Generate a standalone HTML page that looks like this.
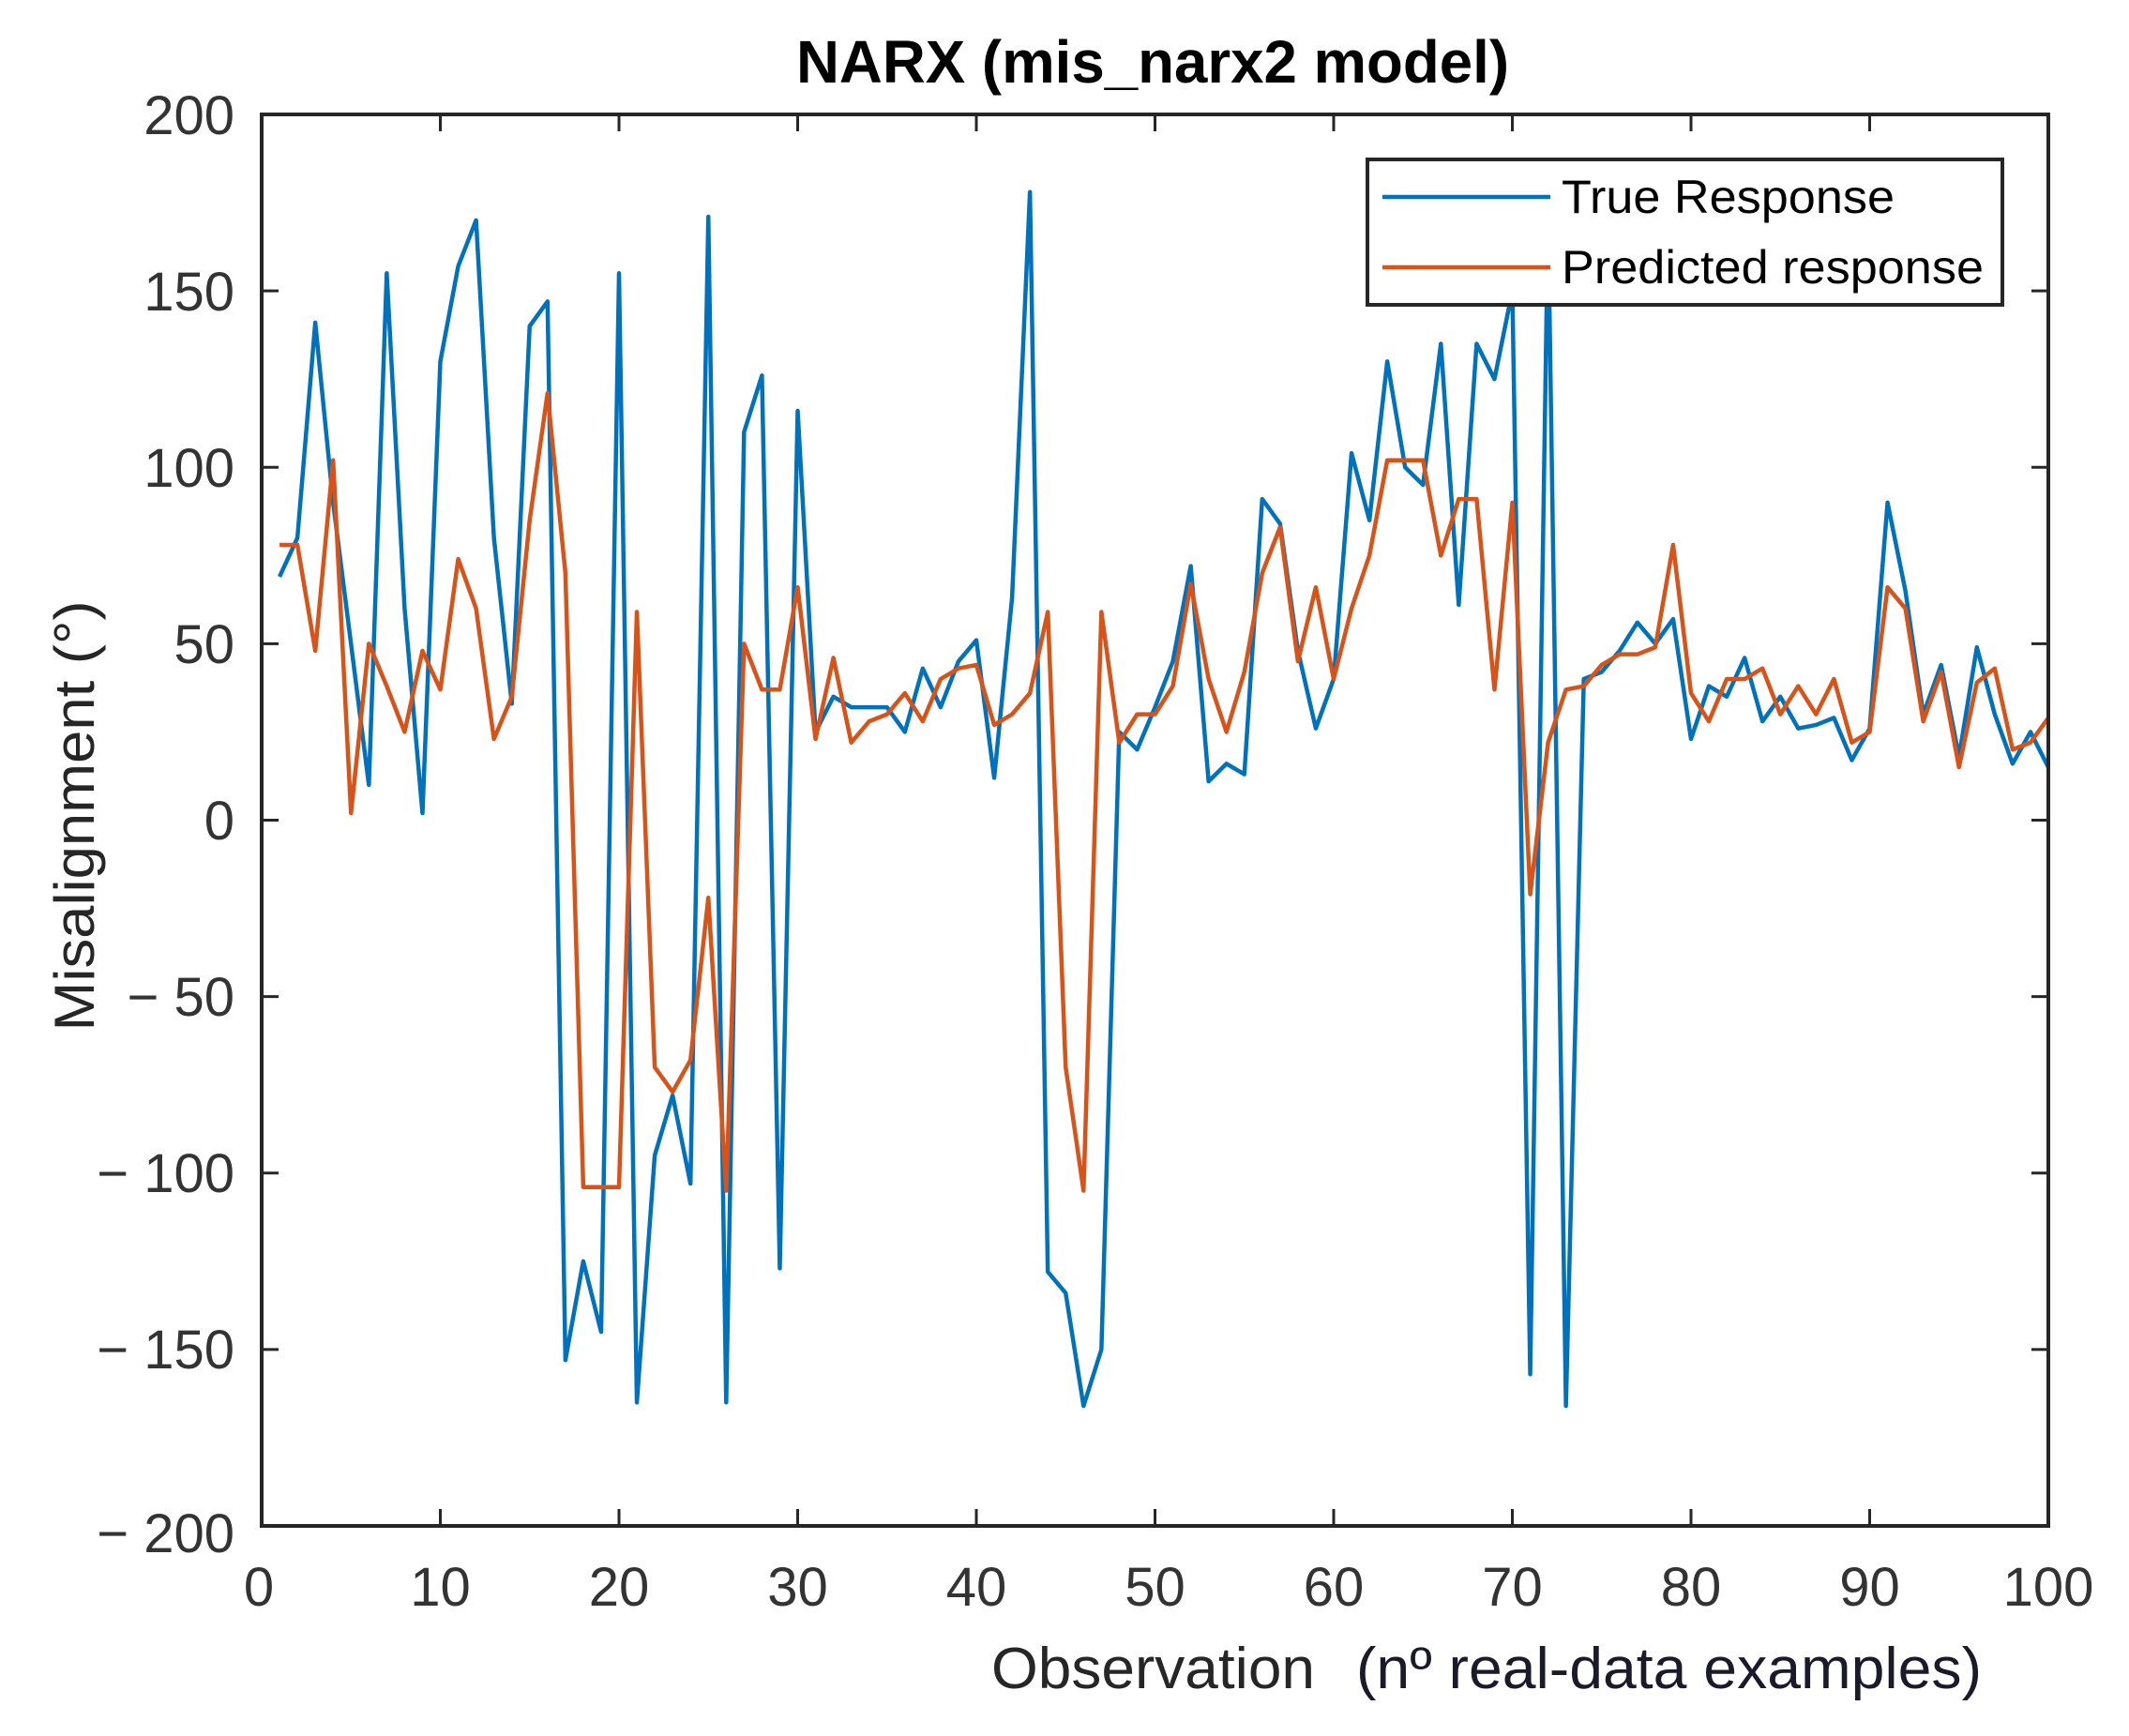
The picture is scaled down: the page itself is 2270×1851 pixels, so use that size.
<!DOCTYPE html>
<html><head><meta charset="utf-8"><style>
html,body{margin:0;padding:0;background:#fff;}
svg{display:block;}
</style></head><body>
<svg width="2270" height="1851" viewBox="0 0 2270 1851" xmlns="http://www.w3.org/2000/svg" font-family="Liberation Sans, Arial, sans-serif">
<rect width="2270" height="1851" fill="#fff"/>
<defs><clipPath id="c"><rect x="279" y="122" width="1905" height="1505"/></clipPath></defs>
<g clip-path="url(#c)">
<g transform="translate(279,874.5) scale(19.05,-3.7625)">
<polyline fill="none" stroke="#0072BD" stroke-width="4.5" vector-effect="non-scaling-stroke" stroke-linejoin="round" points="1,69 2,80 3,141 4,90 5,50 6,10 7,155 8,60 9,2 10,130 11,157 12,170 13,80 14,33 15,140 16,147 17,-153 18,-125 19,-145 20,155 21,-165 22,-95 23,-78 24,-103 25,171 26,-165 27,110 28,126 29,-127 30,116 31,25 32,35 33,32 34,32 35,32 36,25 37,43 38,32 39,45 40,51 41,12 42,63 43,178 44,-128 45,-134 46,-166 47,-150 48,25 49,20 50,32 51,45 52,72 53,11 54,16 55,13 56,91 57,84 58,48 59,26 60,40 61,104 62,85 63,130 64,100 65,95 66,135 67,61 68,135 69,125 70,150 71,-157 72,172 73,-166 74,40 75,42 76,48 77,56 78,50 79,57 80,23 81,38 82,35 83,46 84,28 85,35 86,26 87,27 88,29 89,17 90,26 91,90 92,65 93,30 94,44 95,18 96,49 97,30 98,16 99,25 100,15 100.6,17"/>
<polyline fill="none" stroke="#D95319" stroke-width="4.5" vector-effect="non-scaling-stroke" stroke-linejoin="round" points="1,78 2,78 3,48 4,102 5,2 6,50 7,38 8,25 9,48 10,37 11,74 12,60 13,23 14,35 15,85 16,121 17,70 18,-104 19,-104 20,-104 21,59 22,-70 23,-77 24,-68 25,-22 26,-105 27,50 28,37 29,37 30,66 31,23 32,46 33,22 34,28 35,30 36,36 37,28 38,40 39,43 40,44 41,27 42,30 43,36 44,59 45,-70 46,-105 47,59 48,22 49,30 50,30 51,38 52,67 53,40 54,25 55,42 56,70 57,83 58,45 59,66 60,40 61,60 62,75 63,102 64,102 65,102 66,75 67,91 68,91 69,37 70,90 71,-21 72,22 73,37 74,38 75,44 76,47 77,47 78,49 79,78 80,36 81,28 82,40 83,40 84,43 85,30 86,38 87,30 88,40 89,22 90,25 91,66 92,60 93,28 94,42 95,15 96,39 97,43 98,20 99,22 100,29 100.6,29"/>
</g>
</g>
<rect x="279" y="122" width="1905" height="1505" fill="none" stroke="#262626" stroke-width="4"/>
<g stroke="#262626" stroke-width="3">
<path d="M469.5,1627v-18M660,1627v-18M850.5,1627v-18M1041,1627v-18M1231.5,1627v-18M1422,1627v-18M1612.5,1627v-18M1803,1627v-18M1993.5,1627v-18
M469.5,122v18M660,122v18M850.5,122v18M1041,122v18M1231.5,122v18M1422,122v18M1612.5,122v18M1803,122v18M1993.5,122v18"/>
<path d="M279,310.1h18M279,498.2h18M279,686.4h18M279,874.5h18M279,1062.6h18M279,1250.8h18M279,1438.9h18
M2184,310.1h-18M2184,498.2h-18M2184,686.4h-18M2184,874.5h-18M2184,1062.6h-18M2184,1250.8h-18M2184,1438.9h-18"/>
</g>
<g font-size="58" fill="#333" text-anchor="end">
<text x="250" y="143">200</text>
<text x="250" y="331">150</text>
<text x="250" y="519">100</text>
<text x="250" y="707">50</text>
<text x="250" y="895">0</text>
<text x="250" y="1083">− 50</text>
<text x="250" y="1271">− 100</text>
<text x="250" y="1459">− 150</text>
<text x="250" y="1655">− 200</text>
</g>
<g font-size="58" fill="#333" text-anchor="middle">
<text x="276" y="1712">0</text>
<text x="469.5" y="1712">10</text>
<text x="660" y="1712">20</text>
<text x="850.5" y="1712">30</text>
<text x="1041" y="1712">40</text>
<text x="1231.5" y="1712">50</text>
<text x="1422" y="1712">60</text>
<text x="1612.5" y="1712">70</text>
<text x="1803" y="1712">80</text>
<text x="1993.5" y="1712">90</text>
<text x="2184" y="1712">100</text>
</g>
<text x="849" y="88" font-size="64" font-weight="bold" fill="#000" textLength="760" lengthAdjust="spacingAndGlyphs">NARX (mis_narx2 model)</text>
<text transform="translate(100,870) rotate(-90)" text-anchor="middle" font-size="60" fill="#262626" textLength="459" lengthAdjust="spacingAndGlyphs">Misalignment (°)</text>
<text x="1057" y="1800" font-size="62" fill="#262626" textLength="345" lengthAdjust="spacingAndGlyphs">Observation</text>
<text x="1446" y="1800" font-size="62" fill="#1a1a2a" textLength="667" lengthAdjust="spacingAndGlyphs">(nº real-data examples)</text>
<rect x="1458" y="170" width="677" height="155" fill="#fff" stroke="#262626" stroke-width="4"/>
<line x1="1474" y1="210" x2="1653" y2="210" stroke="#0072BD" stroke-width="4.5"/>
<line x1="1474" y1="285" x2="1653" y2="285" stroke="#D95319" stroke-width="4.5"/>
<text x="1665" y="227" font-size="50" fill="#000" textLength="355" lengthAdjust="spacingAndGlyphs">True Response</text>
<text x="1665" y="302" font-size="50" fill="#000" textLength="450" lengthAdjust="spacingAndGlyphs">Predicted response</text>
</svg>
</body></html>
